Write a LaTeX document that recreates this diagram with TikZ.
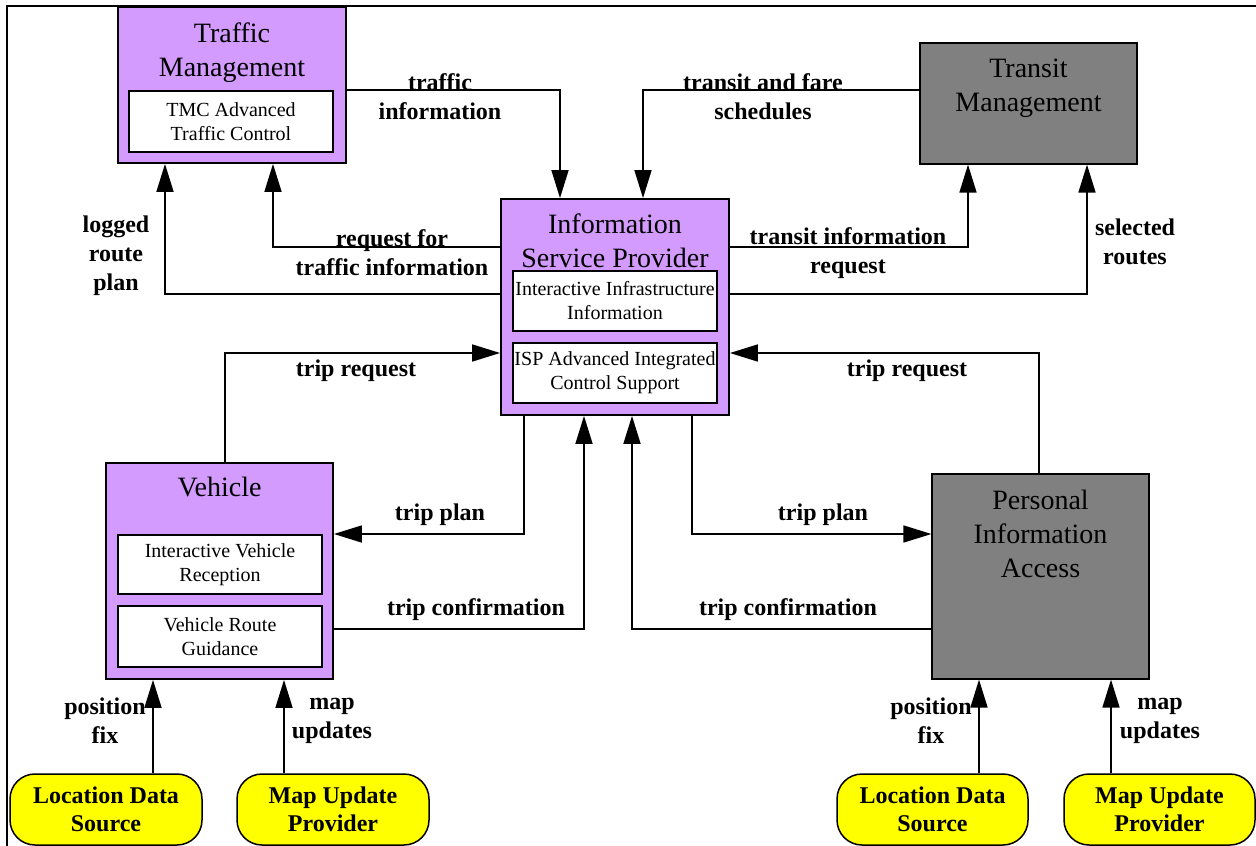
\documentclass[tikz,border=0pt]{standalone}
\usepackage{fontspec}
\setmainfont{Liberation Serif}
\usepackage{tikz}
\usetikzlibrary{positioning, arrows.meta, shapes}

\definecolor{sysviolet}{RGB}{211,155,253}
\definecolor{sysgrey}{RGB}{128,128,128}
\definecolor{termyellow}{RGB}{255,255,0}

\begin{document}
\begin{tikzpicture}[x=1pt,y=-1pt]
            \tikzstyle{sysbox}=[draw,line width=1.8pt,fill=sysviolet,inner sep=0pt]
            \tikzstyle{extbox}=[draw,line width=1.2pt,fill=sysgrey,inner sep=0pt]
            \tikzstyle{subbox}=[draw,line width=1.8pt,fill=white,align=center,inner sep=0pt,
                minimum width=204pt,font=\fontsize{20}{24}\selectfont]
            \tikzstyle{title}=[align=center,font=\fontsize{28}{34}\selectfont]
            \tikzstyle{term}=[draw,line width=1.5pt,fill=termyellow,rounded corners=25pt,
                minimum width=192pt,minimum height=71pt,align=center,
                font=\fontsize{24}{28}\selectfont\bfseries]
            \tikzstyle{flowlabel}=[align=center,inner sep=0pt,font=\fontsize{24}{29}\selectfont\bfseries]
            \tikzstyle{flow}=[line width=1.6pt,-{Triangle[length=28pt,width=17pt]}]

            \useasboundingbox (0,0) rectangle (1256,846);
            \draw[line width=2pt] (7,846) -- (7,6) -- (1256,6);

            % systems
            \node (tm) [sysbox,minimum width=228pt,minimum height=156pt] at (232,85) {};
            \node (tmt) [title] at (232,53) {Traffic\\Management};
            \node (tmc) [subbox,minimum height=61pt] at (231,121.5) {TMC Advanced\\Traffic Control};

            \node (trm) [extbox,minimum width=217pt,minimum height=121pt] at (1028.5,103.5) {};
            \node (trmt) [title] at (1028.5,88) {Transit\\Management};

            \node (isp) [sysbox,minimum width=228pt,minimum height=216pt] at (615,307) {};
            \node (ispt) [title] at (615,240.5) {Information\\Service Provider};
            \node (iii) [subbox,minimum height=60pt] at (615,301) {Interactive Infrastructure\\Information};
            \node (aics) [subbox,minimum height=60pt] at (615,373) {ISP Advanced Integrated\\Control Support};

            \node (veh) [sysbox,minimum width=227pt,minimum height=216pt] at (219.5,571) {};
            \node (veht) [title] at (219.5,487) {Vehicle};
            \node (ivr) [subbox,minimum height=59pt] at (220,564.5) {Interactive Vehicle\\Reception};
            \node (vrg) [subbox,minimum height=61pt] at (220,636.5) {Vehicle Route\\Guidance};

            \node (pia) [extbox,minimum width=217pt,minimum height=205pt] at (1040.5,576.5) {};
            \node (piat) [title] at (1040.5,534) {Personal\\Information\\Access};

            % terminators
            \node (lds1) [term] at (106,809.5) {Location Data\\Source};
            \node (mup1) [term] at (333,809.5) {Map Update\\Provider};
            \node (lds2) [term,minimum width=191pt] at (932.5,809.5) {Location Data\\Source};
            \node (mup2) [term,minimum width=191pt] at (1159.5,809.5) {Map Update\\Provider};

            % flows
            \draw[flow] ([yshift=-5pt]tm.east) -| ([xshift=-55pt]isp.north);
            \draw[flow] ([yshift=13.5pt]trm.west) -| ([xshift=28pt]isp.north);
            \draw[flow] ([yshift=60pt]isp.west) -| ([xshift=41pt]tm.south);
            \draw[flow] ([yshift=13pt]isp.west) -| ([xshift=-67pt]tm.south);
            \draw[flow] ([yshift=60pt]isp.east) -| ([xshift=-60.5pt]trm.south);
            \draw[flow] ([yshift=13pt]isp.east) -| ([xshift=58.5pt]trm.south);
            \draw[flow] ([xshift=5.5pt]veh.north) |- ([yshift=-46pt]isp.west);
            \draw[flow] ([xshift=-1.5pt]pia.north) |- ([yshift=-46pt]isp.east);
            \draw[flow] ([xshift=-91pt]isp.south) |- ([yshift=37pt]veh.east);
            \draw[flow] ([xshift=77pt]isp.south) |- ([yshift=42.5pt]pia.west);
            \draw[flow] ([yshift=-58pt]veh.east) -| ([xshift=-31pt]isp.south);
            \draw[flow] ([yshift=-52.5pt]pia.west) -| ([xshift=17pt]isp.south);
            \draw[flow] ([xshift=47pt]lds1.north) -- ([xshift=47pt]lds1.north |- veh.south);
            \draw[flow] ([xshift=-49pt]mup1.north) -- ([xshift=-49pt]mup1.north |- veh.south);
            \draw[flow] ([xshift=46.5pt]lds2.north) -- ([xshift=46.5pt]lds2.north |- pia.south);
            \draw[flow] ([xshift=-48.5pt]mup2.north) -- ([xshift=-48.5pt]mup2.north |- pia.south);

            % flow labels
            \node (l1) [flowlabel] at (440,96.5) {traffic\\information};
            \node (l2) [flowlabel] at (763,96.5) {transit and fare\\schedules};
            \node (l3) [flowlabel] at (392,253) {request for\\traffic information};
            \node (l4) [flowlabel] at (116,256) {logged\\route\\plan};
            \node (l5) [flowlabel] at (848,253.5) {transit information\\request};
            \node (l6) [flowlabel] at (1135,241.5) {selected\\routes};
            \node (l7) [flowlabel] at (356,371) {trip request};
            \node (l8) [flowlabel] at (907,371) {trip request};
            \node (l9) [flowlabel] at (440,515) {trip plan};
            \node (l10) [flowlabel] at (823,515) {trip plan};
            \node (l11) [flowlabel] at (476,610) {trip confirmation};
            \node (l12) [flowlabel] at (788,610) {trip confirmation};
            \node (l13) [flowlabel] at (105,720.5) {position\\fix};
            \node (l14) [flowlabel] at (332,720.5) {map\\updates};
            \node (l15) [flowlabel] at (931,720.5) {position\\fix};
            \node (l16) [flowlabel] at (1160,720.5) {map\\updates};
\end{tikzpicture}
\end{document}
